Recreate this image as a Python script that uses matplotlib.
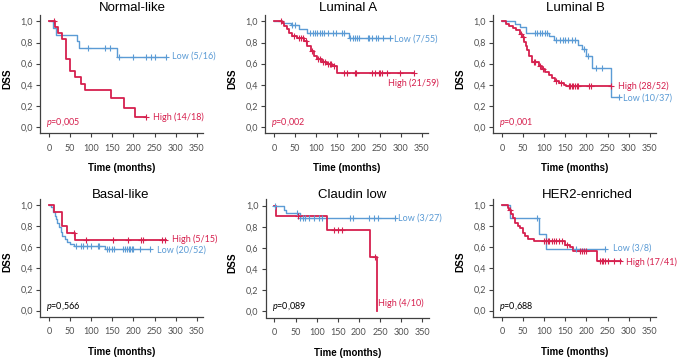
import numpy as np
import matplotlib
matplotlib.use('Agg')
import matplotlib.pyplot as plt

plt.rcParams['font.family'] = ['Lato', 'DejaVu Sans']
plt.rcParams['mathtext.fontset'] = 'custom'
plt.rcParams['mathtext.it'] = 'Lato:italic'
plt.rcParams['mathtext.rm'] = 'Lato'

# ─── Daten ────────────────────────────────────────────────────────────────────
TITLES = ['Normal-like', 'Luminal A', 'Luminal B', 'Basal-like', 'Claudin low', 'HER2-enriched']
P_VALUES = ['0,005', '0,002', '0,001', '0,566', '0,089', '0,688']
LOW_LABELS = ['Low (5/16)', 'Low (7/55)', 'Low (10/37)', 'Low (20/52)', 'Low (3/27)', 'Low (3/8)']
HIGH_LABELS = ['High (14/18)', 'High (21/59)', 'High (28/52)', 'High (5/15)', 'High (4/10)', 'High (17/41)']
X_TICKS = [0, 50, 100, 150, 200, 250, 300, 350]
Y_TICKS = [0.0, 0.2, 0.4, 0.6, 0.8, 1.0]
Y_TICK_LABELS = ['0,0', '0,2', '0,4', '0,6', '0,8', '1,0']

# Normal-like
NL_LOW_T = [9, 18, 67, 71, 160]
NL_LOW_S = [0.938, 0.875, 0.813, 0.75, 0.667]
NL_LOW_END = 278
NL_LOW_CENS = [93, 132, 144, 166, 200, 230, 242, 250, 278]
NL_HIGH_T = [14, 22, 30, 40, 50, 61, 77, 85, 146, 178, 203]
NL_HIGH_S = [0.944, 0.889, 0.833, 0.64, 0.53, 0.47, 0.41, 0.35, 0.27, 0.18, 0.09]
NL_HIGH_END = 230
NL_HIGH_CENS = [12, 230]

# Luminal A
LA_LOW_T = [22, 40, 59, 79, 177]
LA_LOW_S = [0.982, 0.963, 0.928, 0.886, 0.84]
LA_LOW_END = 275
LA_LOW_CENS = [43, 51, 85, 92, 97, 103, 108, 113, 118, 128, 140, 148, 160, 166,
               181, 186, 191, 196, 201, 222, 226, 232, 241, 246, 258, 275]
LA_HIGH_T = [20, 24, 30, 35, 43, 55, 71, 79, 87, 94, 102, 114, 126, 138, 150]
LA_HIGH_S = [0.983, 0.955, 0.925, 0.89, 0.86, 0.84, 0.815, 0.77, 0.72, 0.67,
             0.645, 0.62, 0.595, 0.58, 0.515]
LA_HIGH_END = 331
LA_HIGH_CENS = [16, 48, 60, 65, 68, 75, 90, 105, 110, 117, 122, 128, 132, 135, 142,
                167, 173, 191, 195, 233, 239, 248, 252, 256, 268, 299, 331]

# Luminal B
LB_LOW_T = [32, 44, 56, 111, 123, 180, 190, 200, 213, 257]
LB_LOW_S = [0.973, 0.946, 0.892, 0.86, 0.82, 0.78, 0.74, 0.67, 0.56, 0.28]
LB_LOW_END = 277
LB_LOW_CENS = [79, 84, 90, 96, 102, 107, 128, 138, 144, 150, 156, 165, 172,
               194, 204, 222, 236, 277]
LB_HIGH_T = [10, 18, 26, 34, 42, 48, 52, 56, 60, 65, 72, 87, 94, 103, 112, 119,
             125, 135, 146, 152]
LB_HIGH_S = [0.98, 0.96, 0.94, 0.92, 0.88, 0.85, 0.81, 0.77, 0.73, 0.67, 0.62,
             0.58, 0.55, 0.52, 0.49, 0.46, 0.44, 0.42, 0.40, 0.384]
LB_HIGH_END = 258
LB_HIGH_CENS = [45, 50, 75, 78, 90, 97, 128, 140, 158, 162, 165, 168, 172, 178,
                180, 205, 210, 258]

# Basal-like
BL_LOW_T = [5, 10, 14, 17, 20, 24, 28, 32, 38, 43, 50, 60, 132]
BL_LOW_S = [0.98, 0.94, 0.90, 0.87, 0.83, 0.79, 0.75, 0.71, 0.68, 0.65, 0.63,
            0.615, 0.58]
BL_LOW_END = 238
BL_LOW_CENS = [65, 75, 80, 90, 100, 115, 118, 137, 142, 150, 155, 175, 180, 185,
               190, 193, 197, 200, 215, 238]
BL_HIGH_T = [12, 32, 42, 62]
BL_HIGH_S = [0.933, 0.80, 0.733, 0.667]
BL_HIGH_END = 276
BL_HIGH_CENS = [60, 87, 152, 187, 219, 223, 268, 274]

# Claudin low
CL_LOW_T = [22, 28, 60]
CL_LOW_S = [0.963, 0.926, 0.885]
CL_LOW_END = 286
CL_LOW_CENS = [2, 53, 61, 67, 73, 81, 93, 105, 113, 180, 187, 223, 235, 246, 286]
CL_HIGH_T = [4, 124, 227, 242]
CL_HIGH_S = [0.9, 0.77, 0.51, 0.0]
CL_HIGH_END = 242
CL_HIGH_CENS = [55, 142, 150, 159, 238]

# HER2-enriched
HE_LOW_T = [20, 87, 105]
HE_LOW_S = [0.875, 0.729, 0.583]
HE_LOW_END = 245
HE_LOW_CENS = [83, 175, 245]
HE_HIGH_T = [15, 18, 22, 26, 30, 38, 43, 50, 54, 61, 77, 150, 160, 169, 226]
HE_HIGH_S = [0.976, 0.951, 0.915, 0.878, 0.829, 0.805, 0.78, 0.732, 0.707, 0.683,
             0.656, 0.625, 0.60, 0.567, 0.467]
HE_HIGH_END = 282
HE_HIGH_CENS = [19, 100, 105, 108, 112, 118, 123, 128, 135, 142, 155, 185, 190,
                195, 200, 232, 236, 240, 245, 250, 265, 280]

PANELS = [
    ((NL_LOW_T, NL_LOW_S, NL_LOW_END, NL_LOW_CENS), (NL_HIGH_T, NL_HIGH_S, NL_HIGH_END, NL_HIGH_CENS)),
    ((LA_LOW_T, LA_LOW_S, LA_LOW_END, LA_LOW_CENS), (LA_HIGH_T, LA_HIGH_S, LA_HIGH_END, LA_HIGH_CENS)),
    ((LB_LOW_T, LB_LOW_S, LB_LOW_END, LB_LOW_CENS), (LB_HIGH_T, LB_HIGH_S, LB_HIGH_END, LB_HIGH_CENS)),
    ((BL_LOW_T, BL_LOW_S, BL_LOW_END, BL_LOW_CENS), (BL_HIGH_T, BL_HIGH_S, BL_HIGH_END, BL_HIGH_CENS)),
    ((CL_LOW_T, CL_LOW_S, CL_LOW_END, CL_LOW_CENS), (CL_HIGH_T, CL_HIGH_S, CL_HIGH_END, CL_HIGH_CENS)),
    ((HE_LOW_T, HE_LOW_S, HE_LOW_END, HE_LOW_CENS), (HE_HIGH_T, HE_HIGH_S, HE_HIGH_END, HE_HIGH_CENS)),
]

# ─── Layout (Pixel) ───────────────────────────────────────────────────────────
FIG_W, FIG_H = 677, 359
COL_LOW = '#5b9bd5'
COL_HIGH = '#d6204e'
COL_AX = '#404040'
PX_MONTH = 148 / 350
XLIM = (-21, 365)
YLIM = (-0.06, 1.06)
AX_W = (XLIM[1] - XLIM[0]) * PX_MONTH
AX_H = (YLIM[1] - YLIM[0]) * 105.5
AX_POS = [(40, 133.3), (265, 133.3), (493, 133.3), (40, 317), (265.5, 317.5), (493, 317)]
TITLE_POS = [(132, 8), (348, 8), (575, 8), (121, 195), (352, 195), (587, 195)]
LOW_POS = [(172, 56), (394, 39), (623, 98), (157, 250), (398, 218), (613, 248)]
HIGH_POS = [(153, 117), (388, 83), (618, 86), (172, 239), (378, 303), (626, 262)]
P_COLORS = [COL_HIGH, COL_HIGH, COL_HIGH, 'black', 'black', 'black']


def fx(x):
    return x / FIG_W


def fy(y):
    return 1 - y / FIG_H


def km(ax, times, surv, end, cens, color, lw):
    t = np.array([0] + list(times) + [end], dtype=float)
    s = np.array([1.0] + list(surv) + [surv[-1]])
    ax.step(t, s, where='post', color=color, lw=lw, zorder=3)
    c = np.array(cens, dtype=float)
    idx = np.searchsorted(t[:-1], c, side='right') - 1
    ax.plot(c, s[idx], '+', color=color, ms=4, mew=0.8, zorder=4, clip_on=False)


fig = plt.figure(figsize=(FIG_W / 100, FIG_H / 100), dpi=100)

for i, (low, high) in enumerate(PANELS):
    L, B = AX_POS[i]
    ax = fig.add_axes([fx(L), fy(B), AX_W / FIG_W, AX_H / FIG_H])
    km(ax, *low, COL_LOW, 1.0)
    km(ax, *high, COL_HIGH, 1.3)
    ax.set_xlim(*XLIM)
    ax.set_ylim(*YLIM)
    ax.set_xticks(X_TICKS)
    ax.set_yticks(Y_TICKS)
    ax.set_yticklabels(Y_TICK_LABELS)
    for side in ['top', 'right']:
        ax.spines[side].set_visible(False)
    for side in ['left', 'bottom']:
        ax.spines[side].set_color(COL_AX)
        ax.spines[side].set_linewidth(0.9)
    ax.tick_params(direction='out', length=3, width=0.8, color=COL_AX,
                   labelcolor='#505050', labelsize=6.5)
    ax.tick_params(axis='x', pad=4.5)
    ax.tick_params(axis='y', pad=2)
    ax.set_facecolor('none')

    tx, ty = TITLE_POS[i]
    fig.text(fx(tx), fy(ty), TITLES[i], ha='center', va='center',
             family='Liberation Sans', fontsize=9.5)
    fig.text(fx(L - 33), fy(B - 55), 'DSS', rotation=90, ha='center', va='center',
             family='Liberation Sans', fontweight='bold', fontsize=7.2)
    fig.text(fx(L + 82), fy(B + 35), 'Time (months)', ha='center', va='center',
             family='Liberation Sans', fontweight='bold', fontsize=7)

    lx, ly = LOW_POS[i]
    fig.text(fx(lx), fy(ly), LOW_LABELS[i], ha='left', va='center',
             color=COL_LOW, fontsize=6.5)
    hx, hy = HIGH_POS[i]
    fig.text(fx(hx), fy(hy), HIGH_LABELS[i], ha='left', va='center',
             color=COL_HIGH, fontsize=6.5)
    ax.text(-6, 0.04, '$p$=' + P_VALUES[i], ha='left', va='center',
            color=P_COLORS[i], fontsize=6.5)

fig.savefig('out.png', dpi=100, facecolor='white')
